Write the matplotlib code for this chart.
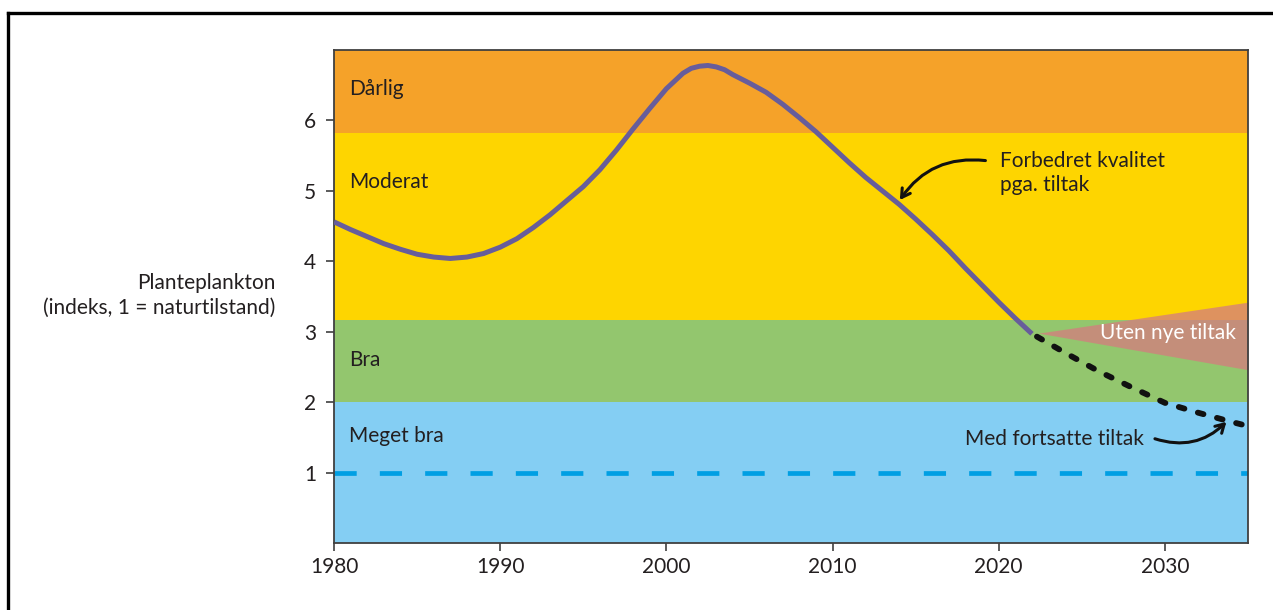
import matplotlib
matplotlib.use("Agg")
import matplotlib.pyplot as plt
from matplotlib.lines import Line2D

plt.rcParams['font.family'] = ['Lato', 'DejaVu Sans']
fontSize = 15
textColor = '#231f20'

# status bands (lower, upper, label, colour)
bandLows = [0, 2.0, 3.16, 5.82]
bandHighs = [2.0, 3.16, 5.82, 7.0]
bandNames = ['Meget bra', 'Bra', 'Moderat', 'Dårlig']
bandColors = ['#84cef3', '#93c66e', '#fed500', '#f5a229']
bandLabelY = [1.52, 2.6, 5.12, 6.45]

# observed index
years = [1980, 1981, 1982, 1983, 1984, 1985, 1986, 1987, 1988, 1989,
         1990, 1991, 1992, 1993, 1994, 1995, 1996, 1997, 1998, 1999,
         2000, 2001, 2001.5, 2002, 2002.5, 2003, 2003.5, 2004, 2005, 2006,
         2007, 2008, 2009, 2010, 2011, 2012, 2013, 2014, 2015, 2016,
         2017, 2018, 2019, 2020, 2021, 2022]
index = [4.56, 4.45, 4.35, 4.25, 4.17, 4.10, 4.06, 4.04, 4.06, 4.11,
         4.20, 4.32, 4.48, 4.66, 4.86, 5.06, 5.30, 5.58, 5.88, 6.17,
         6.45, 6.67, 6.74, 6.77, 6.78, 6.76, 6.72, 6.65, 6.53, 6.40,
         6.23, 6.04, 5.84, 5.62, 5.40, 5.19, 5.00, 4.81, 4.60, 4.38,
         4.15, 3.90, 3.66, 3.42, 3.19, 2.97]

# projection with continued measures
projYears = [2022.3, 2024, 2026, 2028, 2030, 2032, 2034, 2035]
projIndex = [2.93, 2.70, 2.44, 2.21, 1.99, 1.85, 1.72, 1.66]

# projection without new measures (wedge)
wedgeYears = [2022.4, 2035]
wedgeUpper = [2.98, 3.42]
wedgeLower = [2.98, 2.46]

fig = plt.figure(figsize=(12.73, 6.10), dpi=100)
ax = fig.add_axes([334 / 1273, 67 / 610, 914 / 1273, 493 / 610])

for lo, hi, col in zip(bandLows, bandHighs, bandColors):
    ax.axhspan(lo, hi, color=col, lw=0, zorder=0)

ax.axhline(1, color='#009fe3', lw=3.4, dashes=(4.7, 4.9), zorder=1)

ax.fill_between(wedgeYears, wedgeLower, wedgeUpper, color='#d47d7e', alpha=0.76, lw=0, zorder=1)

ax.plot(years, index, color='#675d9b', lw=3.6, solid_capstyle='butt',
        solid_joinstyle='round', zorder=3)
ax.plot(projYears, projIndex, color='#111111', lw=4.2, dashes=(1.0, 2.4),
        dash_capstyle='round', zorder=3)

for name, yv in zip(bandNames, bandLabelY):
    ax.text(1980.9, yv, name, fontsize=fontSize, color=textColor, va='center', ha='left')

ax.text(2034.3, 2.98, 'Uten nye tiltak', fontsize=fontSize, color='white', va='center', ha='right')

ax.annotate('', xy=(2014.05, 4.87), xytext=(2019.2, 5.43),
            arrowprops=dict(arrowstyle='->,head_length=0.6,head_width=0.35', color='#111111',
                            lw=2.2, connectionstyle='arc3,rad=0.3', shrinkA=0, shrinkB=0))
ax.text(2020.05, 5.25, 'Forbedret kvalitet\npga. tiltak', fontsize=fontSize, color=textColor,
        va='center', ha='left', linespacing=1.25)

ax.annotate('', xy=(2033.7, 1.72), xytext=(2029.4, 1.48),
            arrowprops=dict(arrowstyle='->,head_length=0.6,head_width=0.35', color='#111111',
                            lw=2.2, connectionstyle='arc3,rad=0.3', shrinkA=0, shrinkB=0))
ax.text(2018.0, 1.48, 'Med fortsatte tiltak', fontsize=fontSize, color=textColor,
        va='center', ha='left')

ax.text(-0.064, 3.52, 'Planteplankton\n(indeks, 1 = naturtilstand)', transform=ax.get_yaxis_transform(),
        fontsize=fontSize, color=textColor, ha='right', va='center', multialignment='right',
        linespacing=1.3)

ax.set_xlim(1980, 2035)
ax.set_ylim(0, 7)
ax.set_xticks([1980, 1990, 2000, 2010, 2020, 2030])
ax.set_yticks([1, 2, 3, 4, 5, 6])
ax.tick_params(labelsize=fontSize, colors='#404040', labelcolor=textColor, length=6, width=1.2)
ax.tick_params(axis='x', pad=4)
ax.tick_params(axis='y', pad=7)
for sp in ax.spines.values():
    sp.set_color('#404040')
    sp.set_linewidth(1.3)

# outer frame (cropped at right and bottom)
fig.add_artist(Line2D([8 / 1273, 8 / 1273], [0, 1 - 13 / 610], transform=fig.transFigure,
                      color='black', lw=2.4, solid_capstyle='projecting'))
fig.add_artist(Line2D([8 / 1273, 1], [1 - 13 / 610, 1 - 13 / 610], transform=fig.transFigure,
                      color='black', lw=2.4, solid_capstyle='projecting'))

fig.savefig('out.png', dpi=100)
